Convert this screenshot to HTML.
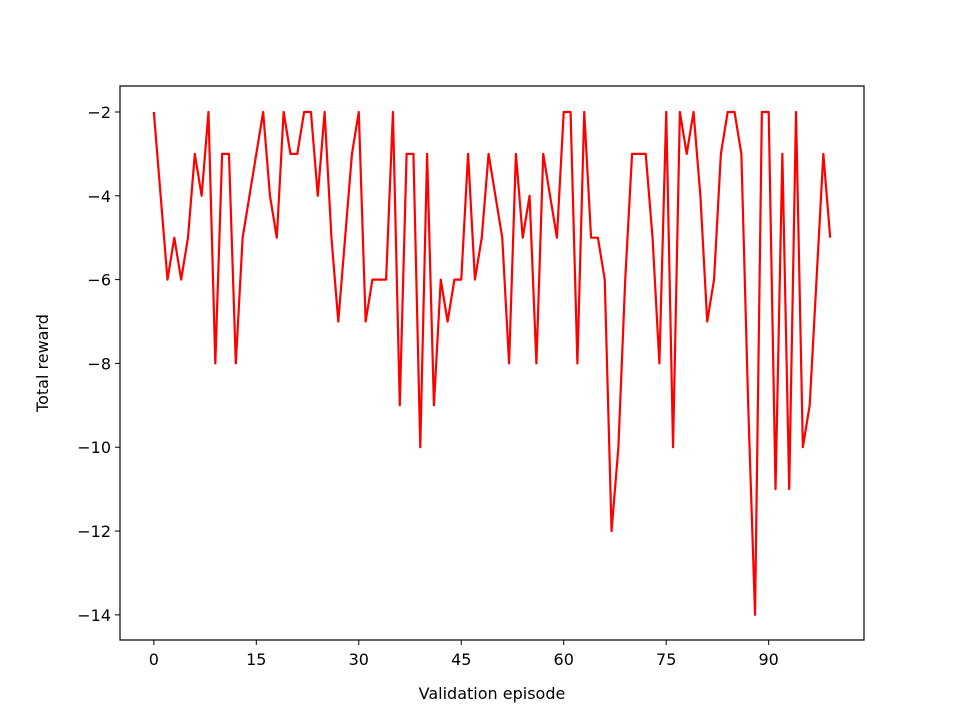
<!DOCTYPE html>
<html><head><meta charset="utf-8"><style>
body{margin:0;background:#fff;}
svg text{font-family:"DejaVu Sans","Liberation Sans",sans-serif;font-size:16px;fill:#000;}
</style></head><body>
<svg id="chart" width="960" height="720" xmlns="http://www.w3.org/2000/svg">
<rect width="960" height="720" fill="#fff"/>
<g id="plot"></g>
<text x="492" y="699" text-anchor="middle">Validation episode</text>
<text transform="translate(48,363) rotate(-90)" text-anchor="middle">Total reward</text>
</svg>
<script>
const episodes = Array.from({length:100},(_,i)=>i);
const rewards = [-2,-4,-6,-5,-6,-5,-3,-4,-2,-8,-3,-3,-8,-5,-4,-3,-2,-4,-5,-2,
-3,-3,-2,-2,-4,-2,-5,-7,-5,-3,-2,-7,-6,-6,-6,-2,-9,-3,-3,-10,
-3,-9,-6,-7,-6,-6,-3,-6,-5,-3,-4,-5,-8,-3,-5,-4,-8,-3,-4,-5,
-2,-2,-8,-2,-5,-5,-6,-12,-10,-6,-3,-3,-3,-5,-8,-2,-10,-2,-3,-2,
-4,-7,-6,-3,-2,-2,-3,-9,-14,-2,-2,-11,-3,-11,-2,-10,-9,-6,-3,-5];
const xTicks = [0,15,30,45,60,75,90];
const yTicks = [-2,-4,-6,-8,-10,-12,-14];
const L=120,R=864,T=86,B=640;
const xMin=-4.95,xMax=103.95,yMin=-14.6,yMax=-1.38;
const sx=v=>L+(v-xMin)/(xMax-xMin)*(R-L);
const sy=v=>B-(v-yMin)/(yMax-yMin)*(B-T);
const NS="http://www.w3.org/2000/svg";
const g=document.getElementById('plot');
function mk(t,a){const e=document.createElementNS(NS,t);for(const k in a)e.setAttribute(k,a[k]);g.appendChild(e);return e;}
const line=mk('polyline',{points:episodes.map((e,i)=>sx(e)+','+sy(rewards[i])).join(' '),fill:'none',stroke:'#ff0000','stroke-width':2.2,'stroke-linejoin':'round'});


const frame=mk('rect',{x:L,y:T,width:R-L,height:B-T,fill:'none',stroke:'#000','stroke-width':1.2});


xTicks.forEach(v=>{
 const x=sx(v);
 const t=mk('line',{x1:x,x2:x,y1:B,y2:B+5,stroke:'#000','stroke-width':1});
 
 
 const l=mk('text',{x:x,y:B+25,'text-anchor':'middle'});l.textContent=v;
 
 
});
yTicks.forEach(v=>{
 const y=sy(v);
 const t=mk('line',{x1:L-5,x2:L,y1:y,y2:y,stroke:'#000','stroke-width':1});
 
 
 const l=mk('text',{x:L-9,y:y+6,'text-anchor':'end'});l.textContent='\u2212'+Math.abs(v);
 
 
});
</script>
</body></html>
